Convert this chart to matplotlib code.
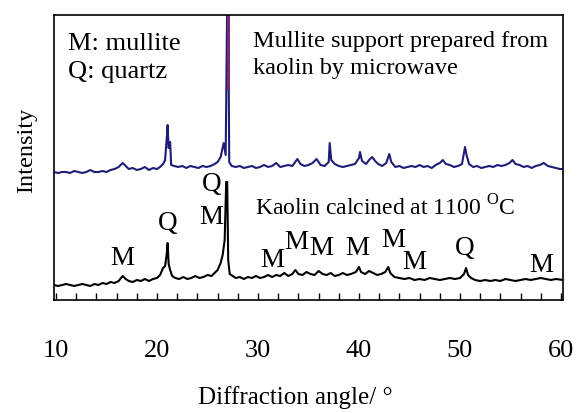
import numpy as np
import matplotlib
matplotlib.use("Agg")
import matplotlib.pyplot as plt
from matplotlib.ticker import MultipleLocator

plt.rcParams['font.family'] = ['Liberation Serif', 'DejaVu Serif']
plt.rcParams['mathtext.fontset'] = 'custom'
plt.rcParams['mathtext.rm'] = 'Liberation Serif'

# XRD pattern, microwave mullite support (upper, offset trace)
blue_x = [9.8, 10.2, 10.6, 11.0, 11.4, 11.8, 12.2, 12.6, 13.0, 13.4, 13.8, 14.2, 14.6, 15.0, 15.4,
          15.8, 16.2, 16.6, 16.9, 17.2, 17.6, 18.0, 18.4, 18.8, 19.2, 19.6, 20.0, 20.3, 20.6, 20.8,
          20.95, 21.05, 21.15, 21.3, 21.4, 21.7, 22.1, 22.5, 22.9, 23.3, 23.7, 24.1, 24.5, 24.9, 25.3,
          25.7, 26.0, 26.3, 26.6, 26.8, 26.95, 27.05, 27.15, 27.4, 27.8, 28.2, 28.6, 29.0, 29.4, 29.8,
          30.2, 30.6, 31.0, 31.4, 31.8, 32.2, 32.6, 33.0, 33.4, 33.9, 34.2, 34.6, 35.0, 35.4, 35.8,
          36.2, 36.6, 37.0, 37.1, 37.25, 37.6, 38.0, 38.4, 38.8, 39.2, 39.6, 40.0, 40.1, 40.3, 40.7,
          41.0, 41.3, 41.6, 41.9, 42.3, 42.7, 43.0, 43.2, 43.6, 44.0, 44.4, 44.8, 45.2, 45.6, 46.0,
          46.4, 46.8, 47.2, 47.6, 48.0, 48.3, 48.6, 49.0, 49.4, 49.8, 50.2, 50.5, 50.65, 50.9, 51.3,
          51.7, 52.1, 52.5, 52.9, 53.3, 53.7, 54.1, 54.5, 54.9, 55.2, 55.5, 55.9, 56.3, 56.7, 57.1,
          57.5, 57.9, 58.3, 58.7, 59.1, 59.5, 59.9, 60.2]
blue_y = [128, 127, 128, 128, 127, 129, 128, 127, 128, 130, 128, 128, 129, 128, 130,
          131, 133, 137, 134, 131, 132, 130, 131, 133, 130, 132, 131, 133, 136, 140,
          160, 175, 152, 158, 135, 134, 133, 134, 132, 134, 133, 132, 134, 133, 134,
          136, 138, 143, 157, 145, 300, 300, 138, 134, 133, 134, 132, 133, 134, 132,
          133, 135, 133, 134, 137, 133, 134, 135, 134, 141, 136, 134, 135, 137, 141,
          135, 134, 138, 157, 140, 136, 134, 133, 134, 135, 136, 142, 148, 139, 136,
          140, 143, 139, 136, 134, 137, 146, 138, 133, 134, 132, 133, 134, 133, 135,
          133, 134, 132, 135, 137, 140, 136, 135, 133, 134, 136, 153, 145, 136, 133,
          134, 132, 133, 134, 133, 135, 134, 135, 137, 140, 136, 135, 133, 134, 132,
          134, 135, 137, 134, 133, 132, 131, 131]
spike_x = 27.0

# XRD pattern, kaolin calcined at 1100 C (lower trace)
black_x = [9.8, 10.2, 10.6, 11.0, 11.4, 11.8, 12.2, 12.6, 13.0, 13.4, 13.8, 14.2, 14.6, 15.0, 15.4,
           15.8, 16.2, 16.6, 16.9, 17.2, 17.6, 18.0, 18.4, 18.8, 19.2, 19.6, 20.0, 20.3, 20.6, 20.8,
           20.95, 21.05, 21.15, 21.3, 21.5, 21.8, 22.2, 22.6, 23.0, 23.4, 23.8, 24.2, 24.6, 25.0, 25.4,
           25.7, 26.0, 26.3, 26.5, 26.7, 26.85, 26.95, 27.05, 27.2, 27.5, 27.8, 28.2, 28.6, 29.0, 29.4,
           29.8, 30.2, 30.6, 31.0, 31.4, 31.8, 32.2, 32.6, 33.0, 33.4, 33.7, 34.0, 34.4, 34.8, 35.2,
           35.6, 36.0, 36.4, 36.8, 37.2, 37.6, 38.0, 38.4, 38.8, 39.2, 39.7, 40.0, 40.2, 40.6, 41.0,
           41.4, 41.8, 42.2, 42.6, 42.9, 43.1, 43.5, 44.0, 44.5, 45.0, 45.5, 46.0, 46.5, 47.0, 47.5,
           48.0, 48.5, 49.0, 49.5, 50.0, 50.4, 50.6, 50.8, 51.1, 51.5, 52.0, 52.5, 53.0, 53.5, 54.0,
           54.5, 55.0, 55.5, 56.0, 56.5, 57.0, 57.5, 58.0, 58.5, 59.0, 59.5, 60.2]
black_y = [15, 14, 15, 16, 15, 14, 15, 16, 15, 14, 16, 15, 17, 16, 18,
           17, 19, 24, 21, 19, 18, 20, 19, 21, 19, 21, 22, 25, 32, 34,
           45, 57, 36, 30, 24, 22, 21, 23, 21, 22, 24, 22, 23, 25, 24,
           27, 30, 37, 45, 60, 118, 118, 40, 26, 24, 22, 23, 21, 23, 22,
           24, 22, 23, 25, 23, 25, 24, 27, 24, 26, 30, 26, 25, 28, 26,
           25, 29, 26, 25, 27, 24, 25, 27, 25, 26, 28, 33, 28, 26, 29,
           27, 25, 26, 28, 33, 27, 23, 22, 21, 22, 20, 21, 20, 22, 21,
           20, 21, 22, 21, 22, 26, 32, 25, 22, 20, 19, 20, 19, 20, 19,
           21, 20, 19, 20, 21, 20, 21, 22, 21, 20, 21, 20]

# phase labels on the lower trace
peak_labels = ['M', 'Q', 'Q', 'M', 'M', 'M', 'M', 'M', 'M', 'M', 'Q', 'M']
peak_label_x = [16.6, 21.1, 25.4, 25.4, 31.4, 33.8, 36.3, 39.8, 43.4, 45.5, 50.5, 58.1]
peak_label_y = [42, 77, 115, 82, 40, 58, 52, 52, 60, 38, 52, 35]

fig = plt.figure(figsize=(5.77, 4.13), dpi=100)
ax = fig.add_axes([0.0936, 0.2736, 0.8821, 0.6901])

ax.plot(blue_x, blue_y, color='#1f1d78', lw=1.5)
ax.vlines(spike_x, 210, 300, color='#7a2a6e', lw=2.2)
ax.plot(black_x, black_y, color='black', lw=1.5)

for lab, px, py in zip(peak_labels, peak_label_x, peak_label_y):
    ax.text(px, py, lab, fontsize=19.5, ha='center', va='center')

ax.text(0.028, 0.877, 'M: mullite', transform=ax.transAxes, fontsize=19, va='baseline')
ax.text(0.028, 0.780, 'Q: quartz', transform=ax.transAxes, fontsize=19, va='baseline')
ax.text(0.391, 0.888, 'Mullite support prepared from', transform=ax.transAxes,
        fontsize=17.5, va='baseline')
ax.text(0.391, 0.793, 'kaolin by microwave', transform=ax.transAxes, fontsize=17.5, va='baseline')
ax.text(0.395, 0.298, r'Kaolin calcined at 1100 $^{\rm O}$C', transform=ax.transAxes,
        fontsize=17, va='baseline')

ax.set_xlim(9.8, 60.2)
ax.set_ylim(0, 285)
ax.xaxis.set_major_locator(MultipleLocator(10))
ax.xaxis.set_minor_locator(MultipleLocator(2))
ax.tick_params(axis='x', which='both', direction='in', length=5, width=1.0, labelsize=19, pad=29)
ax.set_yticks([])
for s in ax.spines.values():
    s.set_linewidth(1.2)

fig.text(295 / 577, 1 - 398 / 413, 'Diffraction angle/ °', fontsize=18, ha='center', va='center')
fig.text(27 / 577, 1 - 150 / 413, 'Intensity', fontsize=17.5, rotation=90, ha='center', va='center')

fig.savefig('out.png', dpi=100)
